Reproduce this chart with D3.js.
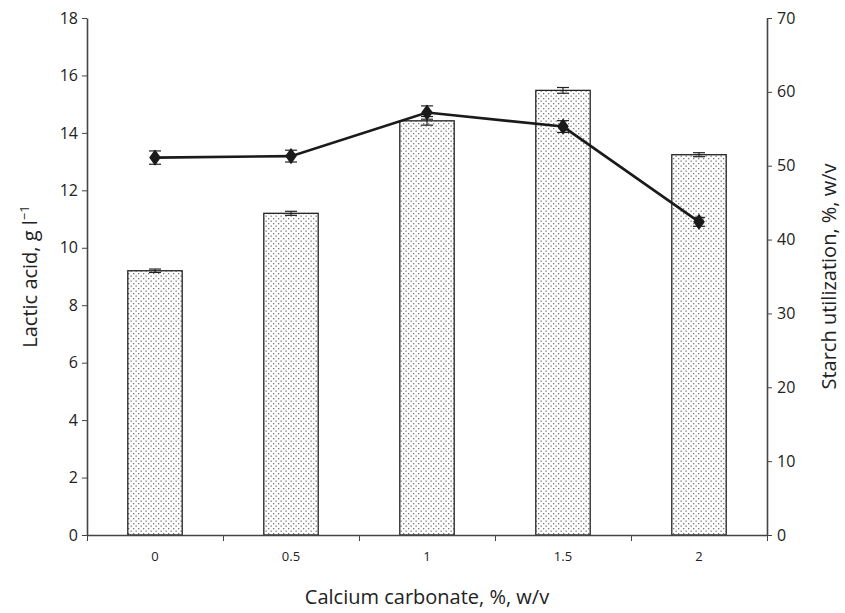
<!DOCTYPE html>
<html>
<head>
<meta charset="utf-8">
<script src="https://cdn.jsdelivr.net/npm/d3@7"></script>
<style>
  body { margin: 0; background: #fff; }
  svg { display: block; font-family: "Open Sans", "Noto Sans", sans-serif; }
</style>
</head>
<body>
<svg id="chart" width="845" height="613"></svg>
<script>
// Calcium carbonate concentrations (% w/v)
const categories = ["0", "0.5", "1", "1.5", "2"];
// Lactic acid production, g/l (bars, left axis)
const lacticAcid = [9.2, 11.2, 14.42, 15.48, 13.24];
const lacticErr = [0.06, 0.07, 0.15, 0.1, 0.07];
// Starch utilization, % w/v (line, right axis)
const starchUtil = [51.1, 51.3, 57.2, 55.3, 42.4];
const starchErr = [0.9, 0.8, 0.9, 0.8, 0.6];
// Axis ticks
const leftTicks = [0, 2, 4, 6, 8, 10, 12, 14, 16, 18];
const rightTicks = [0, 10, 20, 30, 40, 50, 60, 70];

const svg = d3.select("#chart");
const margin = { left: 87, right: 78, top: 18, bottom: 78 };
const W = 845, H = 613;
const x0 = margin.left, x1 = W - margin.right;
const yTop = margin.top, yBot = H - margin.bottom;

const x = d3.scaleBand().domain(categories).range([x0, x1]).paddingInner(0.6).paddingOuter(0.3);
const yL = d3.scaleLinear().domain([0, 18]).range([yBot, yTop]);
const yR = d3.scaleLinear().domain([0, 70]).range([yBot, yTop]);

// Dotted fill for the bars
const defs = svg.append("defs");
const pat = defs.append("pattern").attr("id", "dots")
  .attr("patternUnits", "userSpaceOnUse").attr("width", 5).attr("height", 5);
pat.append("rect").attr("width", 5).attr("height", 5).attr("fill", "#fff");
pat.append("rect").attr("x", 0.5).attr("y", 0.5).attr("width", 1.3).attr("height", 1.3).attr("fill", "#777");
pat.append("rect").attr("x", 3).attr("y", 3).attr("width", 1.3).attr("height", 1.3).attr("fill", "#777");

// Bars
svg.append("g").selectAll("rect").data(categories).join("rect")
  .attr("x", d => x(d))
  .attr("y", (d, i) => yL(lacticAcid[i]))
  .attr("width", x.bandwidth())
  .attr("height", (d, i) => yBot - yL(lacticAcid[i]))
  .attr("fill", "url(#dots)")
  .attr("stroke", "#222").attr("stroke-width", 1.3);

// Error bars helper
function errBars(g, scale, vals, errs, cap) {
  categories.forEach((c, i) => {
    const cx = x(c) + x.bandwidth() / 2;
    const hi = scale(vals[i] + errs[i]), lo = scale(vals[i] - errs[i]);
    g.append("line").attr("x1", cx).attr("x2", cx).attr("y1", hi).attr("y2", lo);
    g.append("line").attr("x1", cx - cap).attr("x2", cx + cap).attr("y1", hi).attr("y2", hi);
    g.append("line").attr("x1", cx - cap).attr("x2", cx + cap).attr("y1", lo).attr("y2", lo);
  });
}
const eb1 = svg.append("g").attr("stroke", "#222").attr("stroke-width", 1.2);
errBars(eb1, yL, lacticAcid, lacticErr, 6);

// Line
const line = d3.line()
  .x((d, i) => x(categories[i]) + x.bandwidth() / 2)
  .y(d => yR(d));
svg.append("path").datum(starchUtil).attr("d", line)
  .attr("fill", "none").attr("stroke", "#1a1a1a").attr("stroke-width", 2.6);
const eb2 = svg.append("g").attr("stroke", "#222").attr("stroke-width", 1.2);
errBars(eb2, yR, starchUtil, starchErr, 6);
svg.append("g").selectAll("path").data(starchUtil).join("path")
  .attr("d", d3.symbol(d3.symbolDiamond, 75))
  .attr("transform", (d, i) => `translate(${x(categories[i]) + x.bandwidth() / 2},${yR(d)}) scale(1.25,1)`)
  .attr("fill", "#1a1a1a");

// Axes
const axisColor = "#444";
const gL = svg.append("g").attr("transform", `translate(${x0},0)`)
  .call(d3.axisLeft(yL).tickValues(leftTicks).tickSize(5).tickSizeOuter(0).tickPadding(4));
const gR = svg.append("g").attr("transform", `translate(${x1},0)`)
  .call(d3.axisRight(yR).tickValues(rightTicks).tickSize(5).tickSizeOuter(0).tickPadding(5));
const xBounds = d3.scaleLinear().domain([0, categories.length]).range([x0, x1]);
const gX = svg.append("g").attr("transform", `translate(0,${yBot})`)
  .call(d3.axisBottom(xBounds).tickValues(d3.range(0, categories.length + 1)).tickFormat("").tickSize(6).tickSizeOuter(0));
// Category labels
svg.append("g").selectAll("text").data(categories).join("text")
  .attr("x", d => x(d) + x.bandwidth() / 2).attr("y", yBot + 26)
  .attr("text-anchor", "middle").attr("font-size", 13).attr("fill", "#222")
  .text(d => d);

[gL, gR, gX].forEach(g => {
  g.select(".domain").attr("stroke", axisColor).attr("stroke-width", 1.6);
  g.selectAll(".tick line").attr("stroke", axisColor).attr("stroke-width", 1);
  g.selectAll(".tick text").attr("font-size", 16).attr("fill", "#222")
    .attr("font-family", "\"Open Sans\", sans-serif");
});

// Titles
svg.append("text").attr("transform", `translate(37,${(yTop + yBot) / 2}) rotate(-90)`)
  .attr("text-anchor", "middle").attr("font-size", 20).attr("fill", "#222")
  .html("Lactic acid, g l<tspan dy='-8' font-size='13'>\u22121</tspan>");
svg.append("text").attr("transform", `translate(836,${(yTop + yBot) / 2}) rotate(-90)`)
  .attr("text-anchor", "middle").attr("font-size", 20).attr("fill", "#222")
  .text("Starch utilization, %, w/v");
svg.append("text").attr("x", (x0 + x1) / 2).attr("y", 604)
  .attr("text-anchor", "middle").attr("font-size", 20).attr("fill", "#222")
  .text("Calcium carbonate, %, w/v");
</script>
</body>
</html>
